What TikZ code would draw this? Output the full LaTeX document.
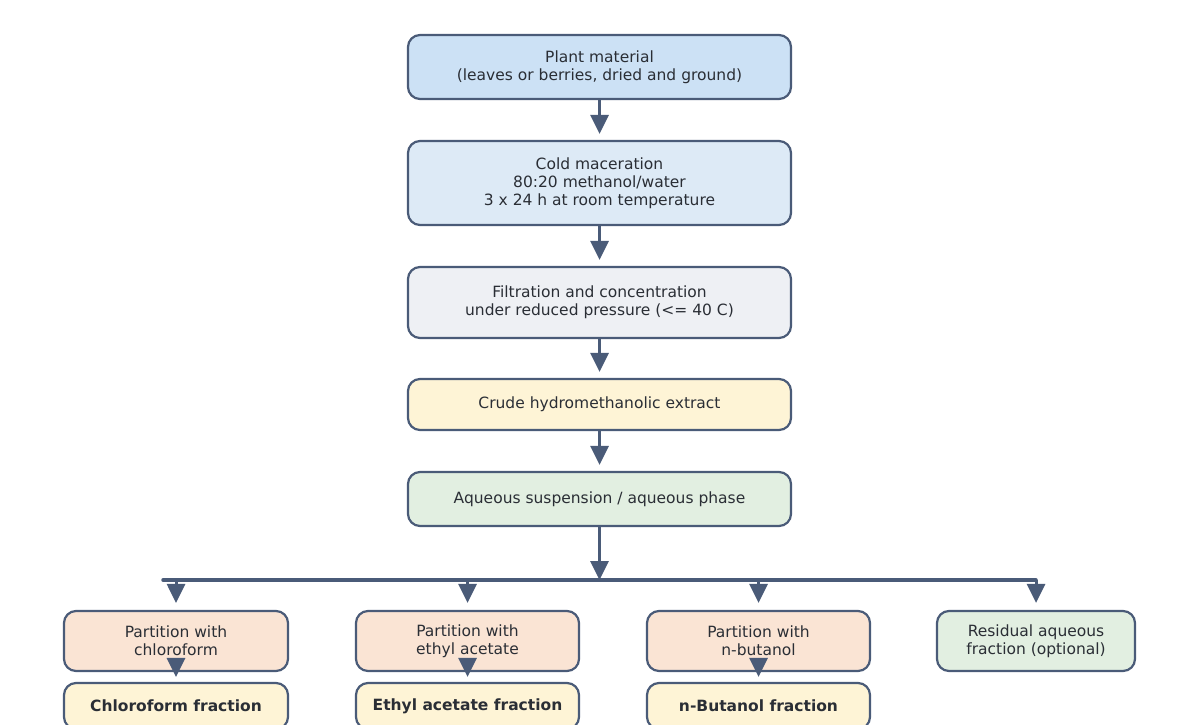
\documentclass[tikz,border=0pt]{standalone}
\usepackage{fontspec}
\setmainfont{DejaVu Sans}
\usetikzlibrary{arrows.meta}
\definecolor{edge}{HTML}{4A5B78}
\definecolor{txt}{HTML}{2A2E35}
\definecolor{cBlueA}{HTML}{CCE1F5}
\definecolor{cBlueB}{HTML}{DDEAF6}
\definecolor{cGrey}{HTML}{EEF0F4}
\definecolor{cYellow}{HTML}{FEF4D6}
\definecolor{cGreen}{HTML}{E2EFE1}
\definecolor{cPeach}{HTML}{FAE4D4}
\tikzset{
  box/.style={draw=edge, line width=2.2pt, rounded corners=12pt, inner sep=0pt,
    align=center, text=txt, font=\fontsize{15.5}{18}\selectfont},
  fracbox/.style={box, fill=cYellow, minimum height=46pt, font=\fontsize{15.5}{18}\selectfont\bfseries},
  flow/.style={draw=edge, line width=3pt, -{Triangle[length=19pt,width=18pt]}},
  bus/.style={draw=edge, line width=3.5pt, line cap=round, rounded corners=6pt},
}
\begin{document}
\begin{tikzpicture}[x=1pt,y=-1pt]
\clip (0,0) rectangle (1181,725);
\fill[white] (0,0) rectangle (1181,725);
\node[box, fill=cBlueA, minimum width=383pt, minimum height=64pt] (n1) at (599.5,67)
  {Plant material\\(leaves or berries, dried and ground)};
\node[box, fill=cBlueB, minimum width=383pt, minimum height=84pt] (n2) at (599.5,183)
  {Cold maceration\\80:20 methanol/water\\3 x 24 h at room temperature};
\node[box, fill=cGrey, minimum width=383pt, minimum height=71pt] (n3) at (599.5,302.5)
  {Filtration and concentration\\under reduced pressure (<= 40 C)};
\node[box, fill=cYellow, minimum width=383pt, minimum height=51pt] (n4) at (599.5,404.5)
  {Crude hydromethanolic extract};
\node[box, fill=cGreen, minimum width=383pt, minimum height=54pt] (n5) at (599.5,499)
  {Aqueous suspension / aqueous phase};

\node[box, fill=cPeach, minimum width=224pt, minimum height=60pt] (pa) at (176,641)
  {Partition with\\chloroform};
\node[box, fill=cPeach, minimum width=223pt, minimum height=60pt] (pb) at (467.5,641)
  {Partition with\\ethyl acetate};
\node[box, fill=cPeach, minimum width=223pt, minimum height=60pt] (pc) at (758.5,641)
  {Partition with\\n-butanol};
\node[box, fill=cGreen, minimum width=198pt, minimum height=60pt] (pd) at (1036,641)
  {Residual aqueous\\fraction (optional)};

\node[fracbox, minimum width=224pt] (fa) at (176,706) {Chloroform fraction};
\node[fracbox, minimum width=223pt] (fb) at (467.5,706) {Ethyl acetate fraction};
\node[fracbox, minimum width=223pt] (fc) at (758.5,706) {n-Butanol fraction};

\coordinate (bl) at (163,580);
\coordinate (br) at (1036,580);
\coordinate (bm) at (599.5,580);

\draw[flow, shorten >=6pt] (n1.south) -- (n2.north);
\draw[flow, shorten >=6pt] (n2.south) -- (n3.north);
\draw[flow, shorten >=6pt] (n3.south) -- (n4.north);
\draw[flow, shorten >=6pt] (n4.south) -- (n5.north);

\draw[bus] (bl) -- (br);
\draw[flow, shorten >=0pt] (n5.south) -- (bm);
\draw[flow, shorten >=7pt] (bl -| pa.north) -- (pa.north);
\draw[flow, shorten >=7pt] (bl -| pb.north) -- (pb.north);
\draw[flow, shorten >=7pt] (bl -| pc.north) -- (pc.north);
\draw[flow, shorten >=7pt] (br) -- (pd.north);

\draw[flow, shorten >=5pt] (pa.south) -- (fa.north);
\draw[flow, shorten >=5pt] (pb.south) -- (fb.north);
\draw[flow, shorten >=5pt] (pc.south) -- (fc.north);
\end{tikzpicture}
\end{document}
